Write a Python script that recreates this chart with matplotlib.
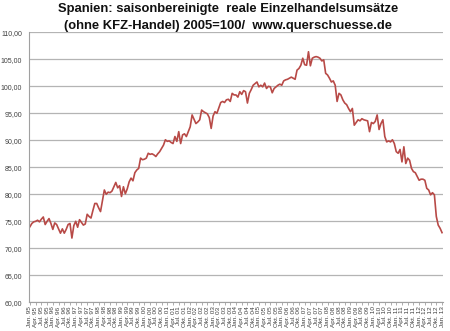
import matplotlib
matplotlib.use("Agg")
import matplotlib.pyplot as plt
from matplotlib.ticker import FuncFormatter

# Monthly index values, Jan 1995 .. Jan 2013 (2005 = 100)
values_1995 = [74.0, 74.6, 74.9, 75.0, 75.2, 74.9, 75.4, 75.8, 74.4, 75.0, 75.5, 74.6]
values_1996 = [73.5, 74.7, 74.4, 73.6, 72.8, 73.6, 72.8, 73.5, 74.4, 74.6, 71.9, 74.2]
values_1997 = [75.0, 73.9, 75.3, 74.8, 74.3, 74.5, 76.3, 75.9, 75.6, 77.0, 78.3, 78.3]
values_1998 = [77.5, 76.8, 78.8, 80.8, 80.0, 80.4, 80.3, 80.6, 81.4, 82.2, 81.2, 81.6]
values_1999 = [79.6, 81.4, 80.1, 81.0, 82.3, 83.0, 82.5, 84.0, 84.5, 84.8, 86.7, 86.4]
values_2000 = [86.5, 86.7, 87.6, 87.4, 87.5, 87.3, 87.0, 87.5, 87.9, 88.5, 89.1, 90.1]
values_2001 = [89.8, 89.9, 89.6, 89.4, 90.7, 89.8, 91.6, 89.4, 91.0, 91.2, 90.7, 91.6]
values_2002 = [92.5, 94.7, 93.9, 93.1, 93.4, 93.8, 95.6, 95.3, 95.1, 94.9, 94.2, 92.2]
values_2003 = [94.5, 95.3, 95.0, 96.0, 97.0, 97.2, 97.0, 97.5, 97.6, 97.2, 98.7, 98.4]
values_2004 = [98.4, 98.0, 99.0, 98.5, 99.2, 99.0, 96.9, 98.7, 99.4, 100.2, 100.5, 100.8]
values_2005 = [99.9, 100.2, 99.9, 100.6, 99.6, 100.0, 99.9, 98.8, 99.6, 99.9, 100.2, 100.4]
values_2006 = [100.2, 101.0, 101.2, 101.3, 101.5, 101.7, 101.5, 101.3, 103.0, 103.3, 103.9, 105.2]
values_2007 = [104.0, 103.9, 106.4, 103.8, 105.2, 105.4, 105.5, 105.4, 105.2, 104.7, 104.9, 102.4]
values_2008 = [102.1, 101.5, 100.8, 101.0, 100.2, 97.2, 98.7, 98.4, 97.5, 96.9, 96.6, 95.9]
values_2009 = [95.3, 95.9, 92.8, 93.3, 93.8, 93.6, 94.0, 93.8, 93.7, 93.6, 91.6, 93.3]
values_2010 = [93.1, 93.5, 94.7, 92.0, 93.1, 93.8, 90.7, 89.7, 89.9, 89.7, 90.1, 89.4]
values_2011 = [87.9, 87.6, 88.3, 86.0, 88.8, 85.7, 86.7, 86.3, 84.8, 84.2, 84.0, 83.3]
values_2012 = [82.6, 82.8, 82.8, 82.6, 81.1, 80.8, 79.9, 80.3, 79.9, 75.9, 74.3, 73.7]
values_2013 = [72.9]

series = (values_1995 + values_1996 + values_1997 + values_1998 + values_1999 +
          values_2000 + values_2001 + values_2002 + values_2003 + values_2004 +
          values_2005 + values_2006 + values_2007 + values_2008 + values_2009 +
          values_2010 + values_2011 + values_2012 + values_2013)

month_names = ["Jan.", "Apr.", "Jul.", "Okt."]
first_year = 1995
last_year = 2013

labels = []
for y in range(first_year, last_year + 1):
    for m in month_names:
        labels.append(f"{m} {y % 100:02d}")
labels = labels[:len(series[::3])]

plt.rcParams["font.family"] = ["Liberation Sans", "DejaVu Sans"]

fig = plt.figure(figsize=(4.5, 3.31), dpi=100)
ax = fig.add_axes([0.0644, 0.0867, 0.92, 0.8157])

x = list(range(len(series)))
ax.plot(x, series, color="#b84a47", lw=1.2, solid_joinstyle="round")

ax.set_xlim(-0.5, len(series) - 0.5)
ax.set_ylim(60, 110)
ax.set_yticks(range(60, 111, 5))
ax.yaxis.set_major_formatter(FuncFormatter(lambda v, p: f"{v:.2f}".replace(".", ",")))
ax.grid(axis="y", color="#b4b4b4", lw=0.9)
ax.set_axisbelow(True)

ax.set_xticks(x[::3])
ax.set_xticklabels(labels, rotation=90, fontsize=4.6, color="#404040")
ax.tick_params(axis="x", length=2, width=0.6, color="#a0a0a0", pad=1)
ax.tick_params(axis="y", length=0, labelsize=5, labelcolor="#404040", pad=5)

for side in ("top", "right"):
    ax.spines[side].set_visible(False)
for side in ("left", "bottom"):
    ax.spines[side].set_color("#a0a0a0")
    ax.spines[side].set_linewidth(0.8)

title_style = dict(ha="center", va="center", fontsize=9.4, fontweight="heavy",
                   color="#111111")
fig.text(0.507, 0.972, "Spanien: saisonbereinigte  reale Einzelhandelsumsätze",
         **title_style)
fig.text(0.507, 0.920, "(ohne KFZ-Handel) 2005=100/  www.querschuesse.de",
         **title_style)

fig.savefig("out.png", dpi=100)
